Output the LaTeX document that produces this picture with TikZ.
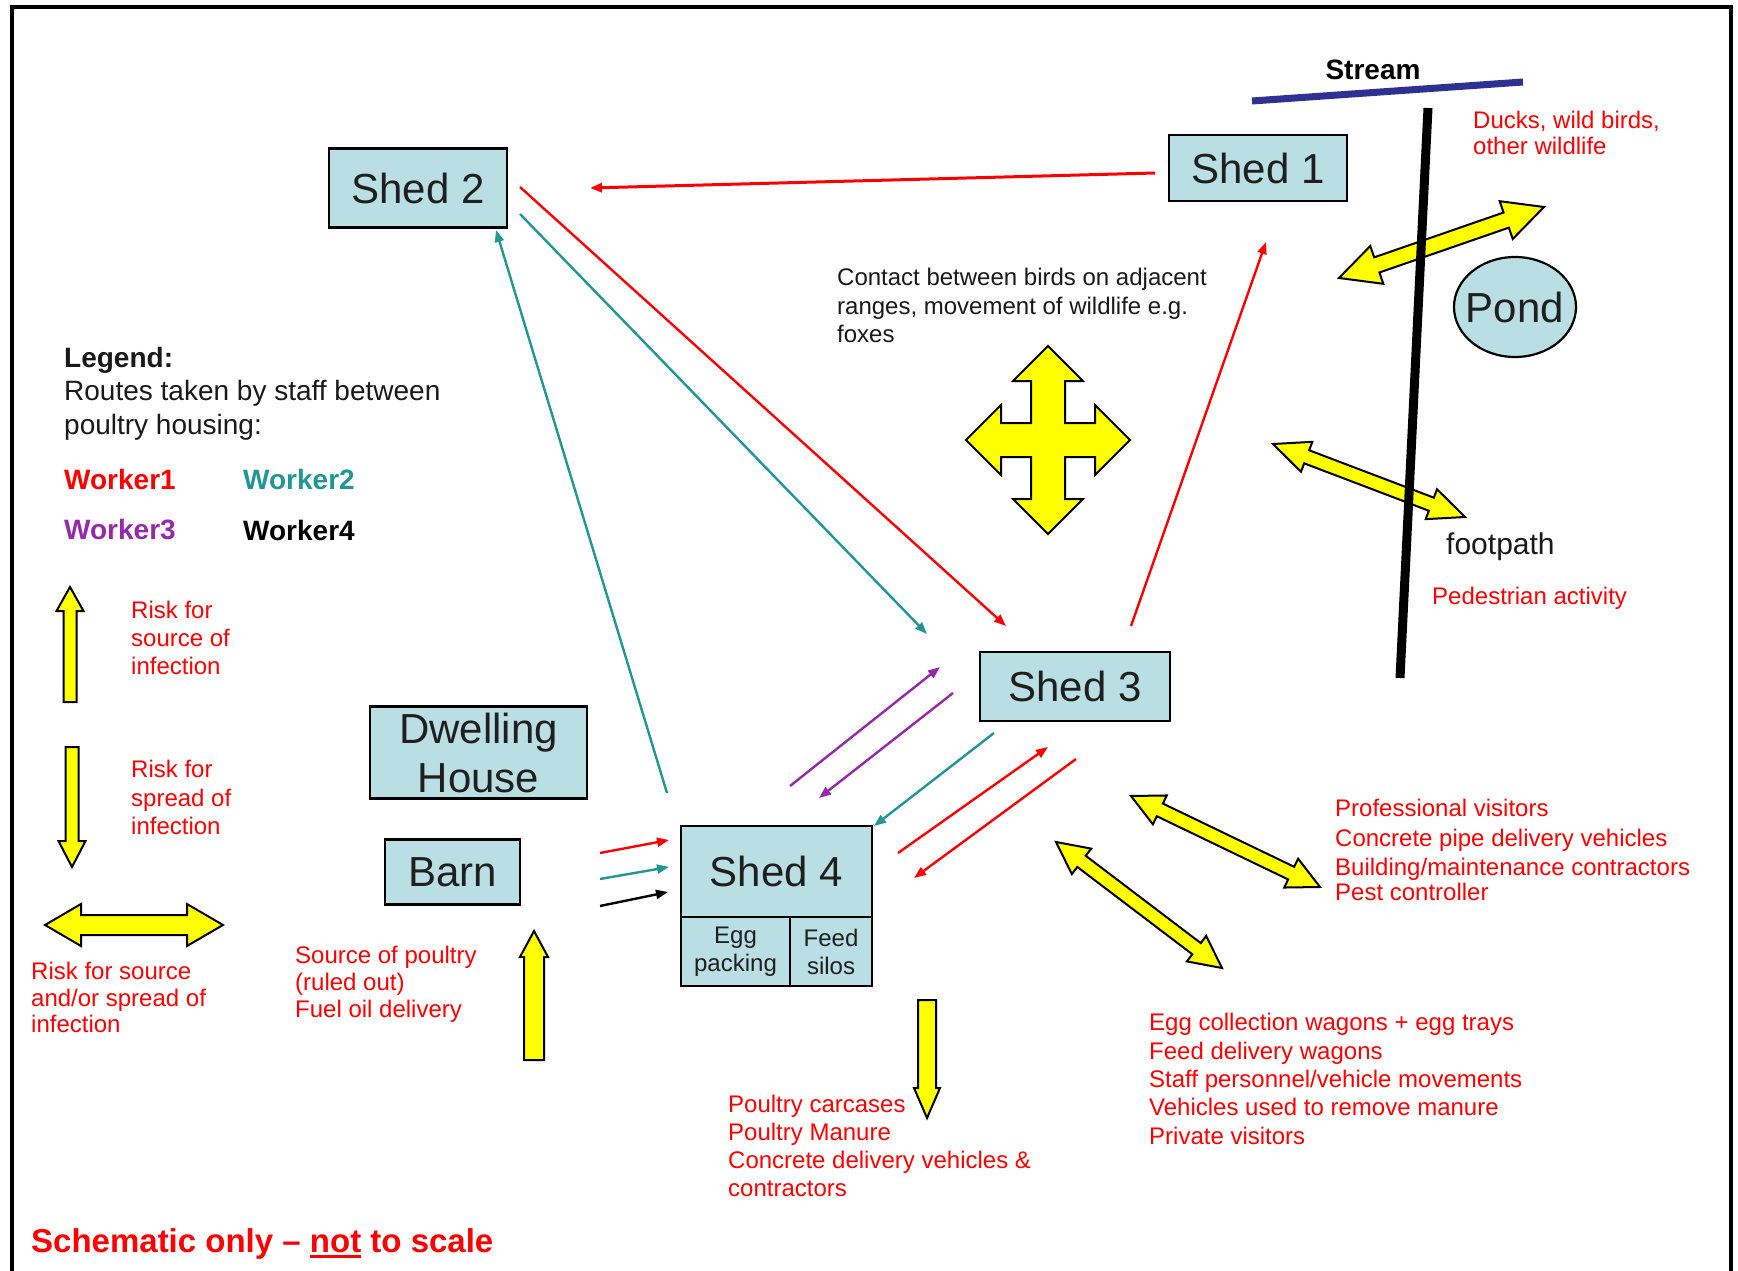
\documentclass[tikz,border=0pt]{standalone}
\usepackage{fontspec}
\setmainfont{Liberation Sans}
\usetikzlibrary{arrows.meta,calc,shapes.geometric}
\definecolor{boxfill}{RGB}{185,223,228}
\definecolor{wteal}{RGB}{34,150,150}
\definecolor{wpurple}{RGB}{150,40,170}
\definecolor{wred}{RGB}{255,0,0}
\definecolor{streamblue}{RGB}{46,49,146}
\definecolor{arrowyellow}{RGB}{255,255,0}
\newcommand{\thickul}[1]{\setbox0=\hbox{#1}\rlap{\rule[-5pt]{\wd0}{3pt}}\box0\relax}
% double-headed block arrow: x1 y1 x2 y2 shafthalf headhalf headlen
\newcommand{\dblblock}[7]{%
  \pgfmathsetmacro{\bkL}{veclen(#3-(#1),#4-(#2))}%
  \pgfmathsetmacro{\bkA}{atan2(-(#4-(#2)),#3-(#1))}%
  \begin{scope}[shift={(#1,#2)},rotate=\bkA]
    \path[yarrow] (0,0) -- (#7,#6) -- (#7,#5) -- (\bkL-#7,#5) -- (\bkL-#7,#6) -- (\bkL,0)
      -- (\bkL-#7,-#6) -- (\bkL-#7,-#5) -- (#7,-#5) -- (#7,-#6) -- cycle;
  \end{scope}}
% single block arrow: tail x1 y1, tip x2 y2, shafthalf headhalf headlen
\newcommand{\sglblock}[7]{%
  \pgfmathsetmacro{\bkL}{veclen(#3-(#1),#4-(#2))}%
  \pgfmathsetmacro{\bkA}{atan2(-(#4-(#2)),#3-(#1))}%
  \begin{scope}[shift={(#1,#2)},rotate=\bkA]
    \path[yarrow] (0,#5) -- (\bkL-#7,#5) -- (\bkL-#7,#6) -- (\bkL,0)
      -- (\bkL-#7,-#6) -- (\bkL-#7,-#5) -- (0,-#5) -- cycle;
  \end{scope}}
\tikzset{
  shedbox/.style={draw=black, line width=2.2pt, fill=boxfill, inner sep=0pt,
    text=black!88, font=\fontsize{42}{49}\selectfont, align=center},
  smallbox/.style={shedbox, font=\fontsize{24}{28}\selectfont},
  blknote/.style={inner sep=0pt, anchor=west, align=left, text=black!90},
  rednote/.style={inner sep=0pt, anchor=west, align=left, text=wred},
  yarrow/.style={draw=black, line width=2pt, fill=arrowyellow, line join=miter},
  route/.style={line width=2.4pt, -{Triangle[length=12pt,width=9pt]}},
}
\begin{document}
\begin{tikzpicture}[x=1pt,y=-1pt]
\useasboundingbox (0,0) rectangle (1738,1271);
\fill[white] (0,0) rectangle (1738,1271);
% frame
\draw[line width=4.5pt] (12,7) rectangle (1731,1300);

% stream
\coordinate (sA) at (1252,101);
\coordinate (sB) at (1523,82);
\draw[streamblue, line width=7pt] (sA) -- (sB);
\node[font=\bfseries\fontsize{28}{32}\selectfont, inner sep=0pt] (stream) at (1373,70) {Stream};

% yellow block arrows
\dblblock{1339}{278}{1544}{207}{8}{20}{40}
\dblblock{1273}{444}{1465}{517}{7}{16}{36}
\dblblock{1131}{796}{1320}{887}{7}{16}{32}
\dblblock{1056}{842}{1222}{968}{7}{16}{32}
\dblblock{45}{925}{223}{925}{10}{21}{36}
\sglblock{70}{702}{70}{587}{6.5}{13.5}{24}
\sglblock{72}{747}{72}{867}{6.5}{13.5}{26}
\sglblock{534}{1060}{534}{931}{10}{14}{26}
\sglblock{927}{1000}{927}{1118}{9}{13}{30}
% four-way arrow
\path[yarrow] (1048,346) -- (1083,381) -- (1065,381) -- (1065,423) -- (1095,423) -- (1095,405)
  -- (1130,440) -- (1095,475) -- (1095,457) -- (1065,457) -- (1065,499) -- (1083,499)
  -- (1048,534) -- (1013,499) -- (1031,499) -- (1031,457) -- (1001,457) -- (1001,475)
  -- (966,440) -- (1001,405) -- (1001,423) -- (1031,423) -- (1031,381) -- (1013,381) -- cycle;

% footpath line
\coordinate (fpA) at (1428,108);
\coordinate (fpB) at (1400,678);
\draw[line width=9pt] (fpA) -- (fpB);

% boxes
\node[shedbox, minimum width=178pt, minimum height=79pt] (shed2) at (418,188) {Shed 2};
\node[shedbox, minimum width=178pt, minimum height=66pt] (shed1) at (1258,168) {Shed 1};
\node[shedbox, minimum width=190pt, minimum height=69pt] (shed3) at (1075,686.5) {Shed 3};
\node[shedbox, minimum width=191pt, minimum height=91pt] (shed4) at (776.5,871.5) {Shed 4};
\node[smallbox, minimum width=109pt, minimum height=69pt] (egg) at (735.5,951.5) {Egg\\packing};
\node[smallbox, minimum width=82pt, minimum height=69pt] (feed) at (831,951.5) {Feed\\silos};
\node[shedbox, minimum width=217pt, minimum height=92pt] (dwell) at (478.5,752.5) {Dwelling\\House};
\node[shedbox, minimum width=135pt, minimum height=65pt] (barn) at (452.5,872) {Barn};
\path[draw=black, line width=2.2pt, fill=boxfill] (1515,307) ellipse [x radius=61, y radius=50];
\node[text=black!88, font=\fontsize{42}{49}\selectfont, inner sep=0pt] (pond) at (1515,307) {Pond};

% worker routes
\coordinate (r1s) at (1155,173); \coordinate (r1e) at (590,188);
\coordinate (r2s) at (520,187);  \coordinate (r2e) at (1006,626);
\coordinate (r3s) at (1131,626); \coordinate (r3e) at (1266,242);
\coordinate (r4s) at (898,853);  \coordinate (r4e) at (1048,747);
\coordinate (r5s) at (1076,759); \coordinate (r5e) at (914,878);
\coordinate (r6s) at (600,853);  \coordinate (r6e) at (669,840);
\coordinate (t1s) at (520,214);  \coordinate (t1e) at (927,634);
\coordinate (t2s) at (667,793);  \coordinate (t2e) at (496,230);
\coordinate (t3s) at (994,733);  \coordinate (t3e) at (874,826);
\coordinate (t4s) at (600,879);  \coordinate (t4e) at (669,867);
\coordinate (p1s) at (790,786);  \coordinate (p1e) at (940,667);
\coordinate (p2s) at (953,693);  \coordinate (p2e) at (819,798);
\coordinate (k1s) at (600,906);  \coordinate (k1e) at (668,892);
\draw[route, wred, line width=3pt] (r1s) -- (r1e);
\draw[route, wred] (r2s) -- (r2e);
\draw[route, wred] (r3s) -- (r3e);
\draw[route, wred] (r4s) -- (r4e);
\draw[route, wred] (r5s) -- (r5e);
\draw[route, wred] (r6s) -- (r6e);
\draw[route, wteal] (t1s) -- (t1e);
\draw[route, wteal] (t2s) -- (t2e);
\draw[route, wteal] (t3s) -- (t3e);
\draw[route, wteal] (t4s) -- (t4e);
\draw[route, wpurple] (p1s) -- (p1e);
\draw[route, wpurple] (p2s) -- (p2e);
\draw[route, black] (k1s) -- (k1e);

% texts
\node[blknote, font=\fontsize{24}{28.5}\selectfont] (contact) at (837,305.5)
  {Contact between birds on adjacent\\ranges, movement of wildlife e.g.\\foxes};
\node[rednote, font=\fontsize{24}{26}\selectfont] (ducks) at (1473,133)
  {Ducks, wild birds,\\other wildlife};
\node[blknote, font=\fontsize{30}{34}\selectfont] (footpath) at (1446,547) {footpath};
\node[rednote, font=\fontsize{24}{28}\selectfont] (pedest) at (1432,598) {Pedestrian activity};

\node[blknote, font=\fontsize{28}{33.5}\selectfont] (legend) at (64,393.5)
  {\textbf{Legend:}\\Routes taken by staff between\\poultry housing:};
\node[blknote, text=wred, font=\bfseries\fontsize{28}{32}\selectfont] (w1) at (64,479) {Worker1};
\node[blknote, text=wteal, font=\bfseries\fontsize{28}{32}\selectfont] (w2) at (243,479) {Worker2};
\node[blknote, text=wpurple, font=\bfseries\fontsize{28}{32}\selectfont] (w3) at (64,530) {Worker3};
\node[blknote, text=black, font=\bfseries\fontsize{28}{32}\selectfont] (w4) at (243,530) {Worker4};

\node[rednote, font=\fontsize{24}{28}\selectfont] (risksrc) at (131,638)
  {Risk for\\source of\\infection};
\node[rednote, font=\fontsize{24}{28.5}\selectfont] (riskspr) at (131,797.5)
  {Risk for\\spread of\\infection};
\node[rednote, font=\fontsize{24}{26.5}\selectfont] (riskboth) at (31,997.5)
  {Risk for source\\and/or spread of\\infection};
\node[rednote, font=\fontsize{24}{27}\selectfont] (srcpoultry) at (295,984)
  {Source of poultry\\(ruled out)\\Fuel oil delivery};
\node[rednote, font=\fontsize{24}{28}\selectfont] (carcases) at (728,1146)
  {Poultry carcases\\Poultry Manure\\Concrete delivery vehicles \&\\contractors};
\node[rednote, font=\fontsize{24}{28.3}\selectfont] (eggcoll) at (1149,1079)
  {Egg collection wagons + egg trays\\Feed delivery wagons\\Staff personnel/vehicle movements\\Vehicles used to remove manure\\Private visitors};
\node[rednote, font=\fontsize{24}{29.5}\selectfont] (profvis) at (1335,850)
  {Professional visitors\\Concrete pipe delivery vehicles\\Building/maintenance contractors\\[-5pt]Pest controller};
\node[rednote, font=\bfseries\fontsize{33}{38}\selectfont] (scheme) at (31,1244)
  {Schematic only \textendash\ \thickul{not} to scale};
\end{tikzpicture}
\end{document}
